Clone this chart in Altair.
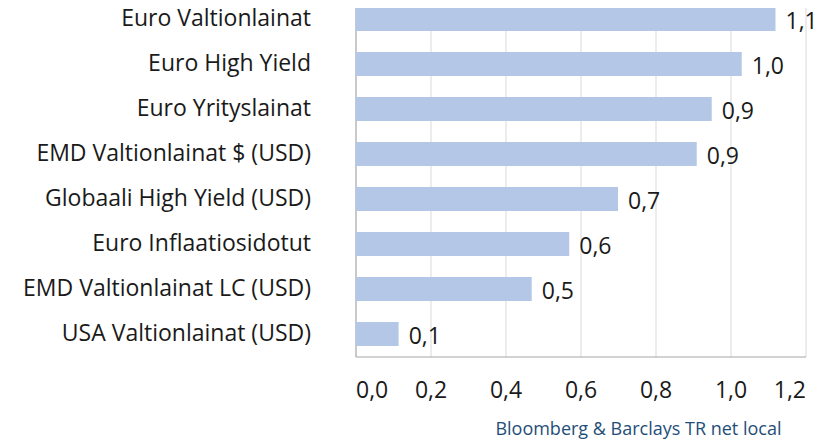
import altair as alt
import pandas as pd

categories = [
    "Euro Valtionlainat",
    "Euro High Yield",
    "Euro Yrityslainat",
    "EMD Valtionlainat $ (USD)",
    "Globaali High Yield (USD)",
    "Euro Inflaatiosidotut",
    "EMD Valtionlainat LC (USD)",
    "USA Valtionlainat (USD)",
]
values = [1.12, 1.03, 0.95, 0.91, 0.70, 0.57, 0.47, 0.115]
tick_values = [0.0, 0.2, 0.4, 0.6, 0.8, 1.0, 1.2]
source_text = "Bloomberg & Barclays TR net local"

labels = [f"{v:.1f}".replace(".", ",") for v in values]
df = pd.DataFrame({"category": categories, "value": values, "label": labels})

FONT = "Open Sans"
FS = 23

x_enc = alt.X(
    "value:Q",
    scale=alt.Scale(domain=[0, 1.2], nice=False, zero=True),
    axis=alt.Axis(
        values=tick_values,
        labelExpr="replace(format(datum.value, '.1f'), '.', ',')",
        grid=True,
        gridColor="#D9D9D9",
        gridWidth=1,
        domainColor="#A6A6A6",
        domainWidth=1,
        ticks=False,
        labelPadding=23,
        labelFontSize=FS,
        labelFont=FONT,
        labelColor="#1a1a1a",
        title=None,
    ),
)
y_enc = alt.Y(
    "category:N",
    sort=categories,
    scale=alt.Scale(paddingInner=0.47, paddingOuter=0.235),
    axis=alt.Axis(
        ticks=False,
        domainColor="#A6A6A6",
        domainWidth=1,
        labelPadding=45,
        labelFontSize=FS,
        labelFont=FONT,
        labelColor="#1a1a1a",
        labelLimit=400,
        title=None,
    ),
)

bars = alt.Chart(df).mark_bar(color="#B4C7E7").encode(x=x_enc, y=y_enc)

text = alt.Chart(df).mark_text(
    align="left", baseline="middle", dx=10, dy=3,
    fontSize=FS, font=FONT, color="#1a1a1a",
).encode(x="value:Q", y=alt.Y("category:N", sort=categories), text="label:N")

src = alt.Chart(pd.DataFrame({"t": [source_text]})).mark_text(
    align="right", baseline="middle", fontSize=18, font=FONT, color="#1F4E79",
).encode(x=alt.value(426), y=alt.value(433.5), text="t:N")

chart = alt.layer(bars, text, src).properties(
    width=450,
    height=360,
    autosize=alt.AutoSizeParams(type="none"),
    padding={"left": 347.5, "top": -11.5, "right": 24, "bottom": 88},
).configure_view(stroke=None)

chart.save("out.html", embed_options={"renderer": "svg", "actions": False})
